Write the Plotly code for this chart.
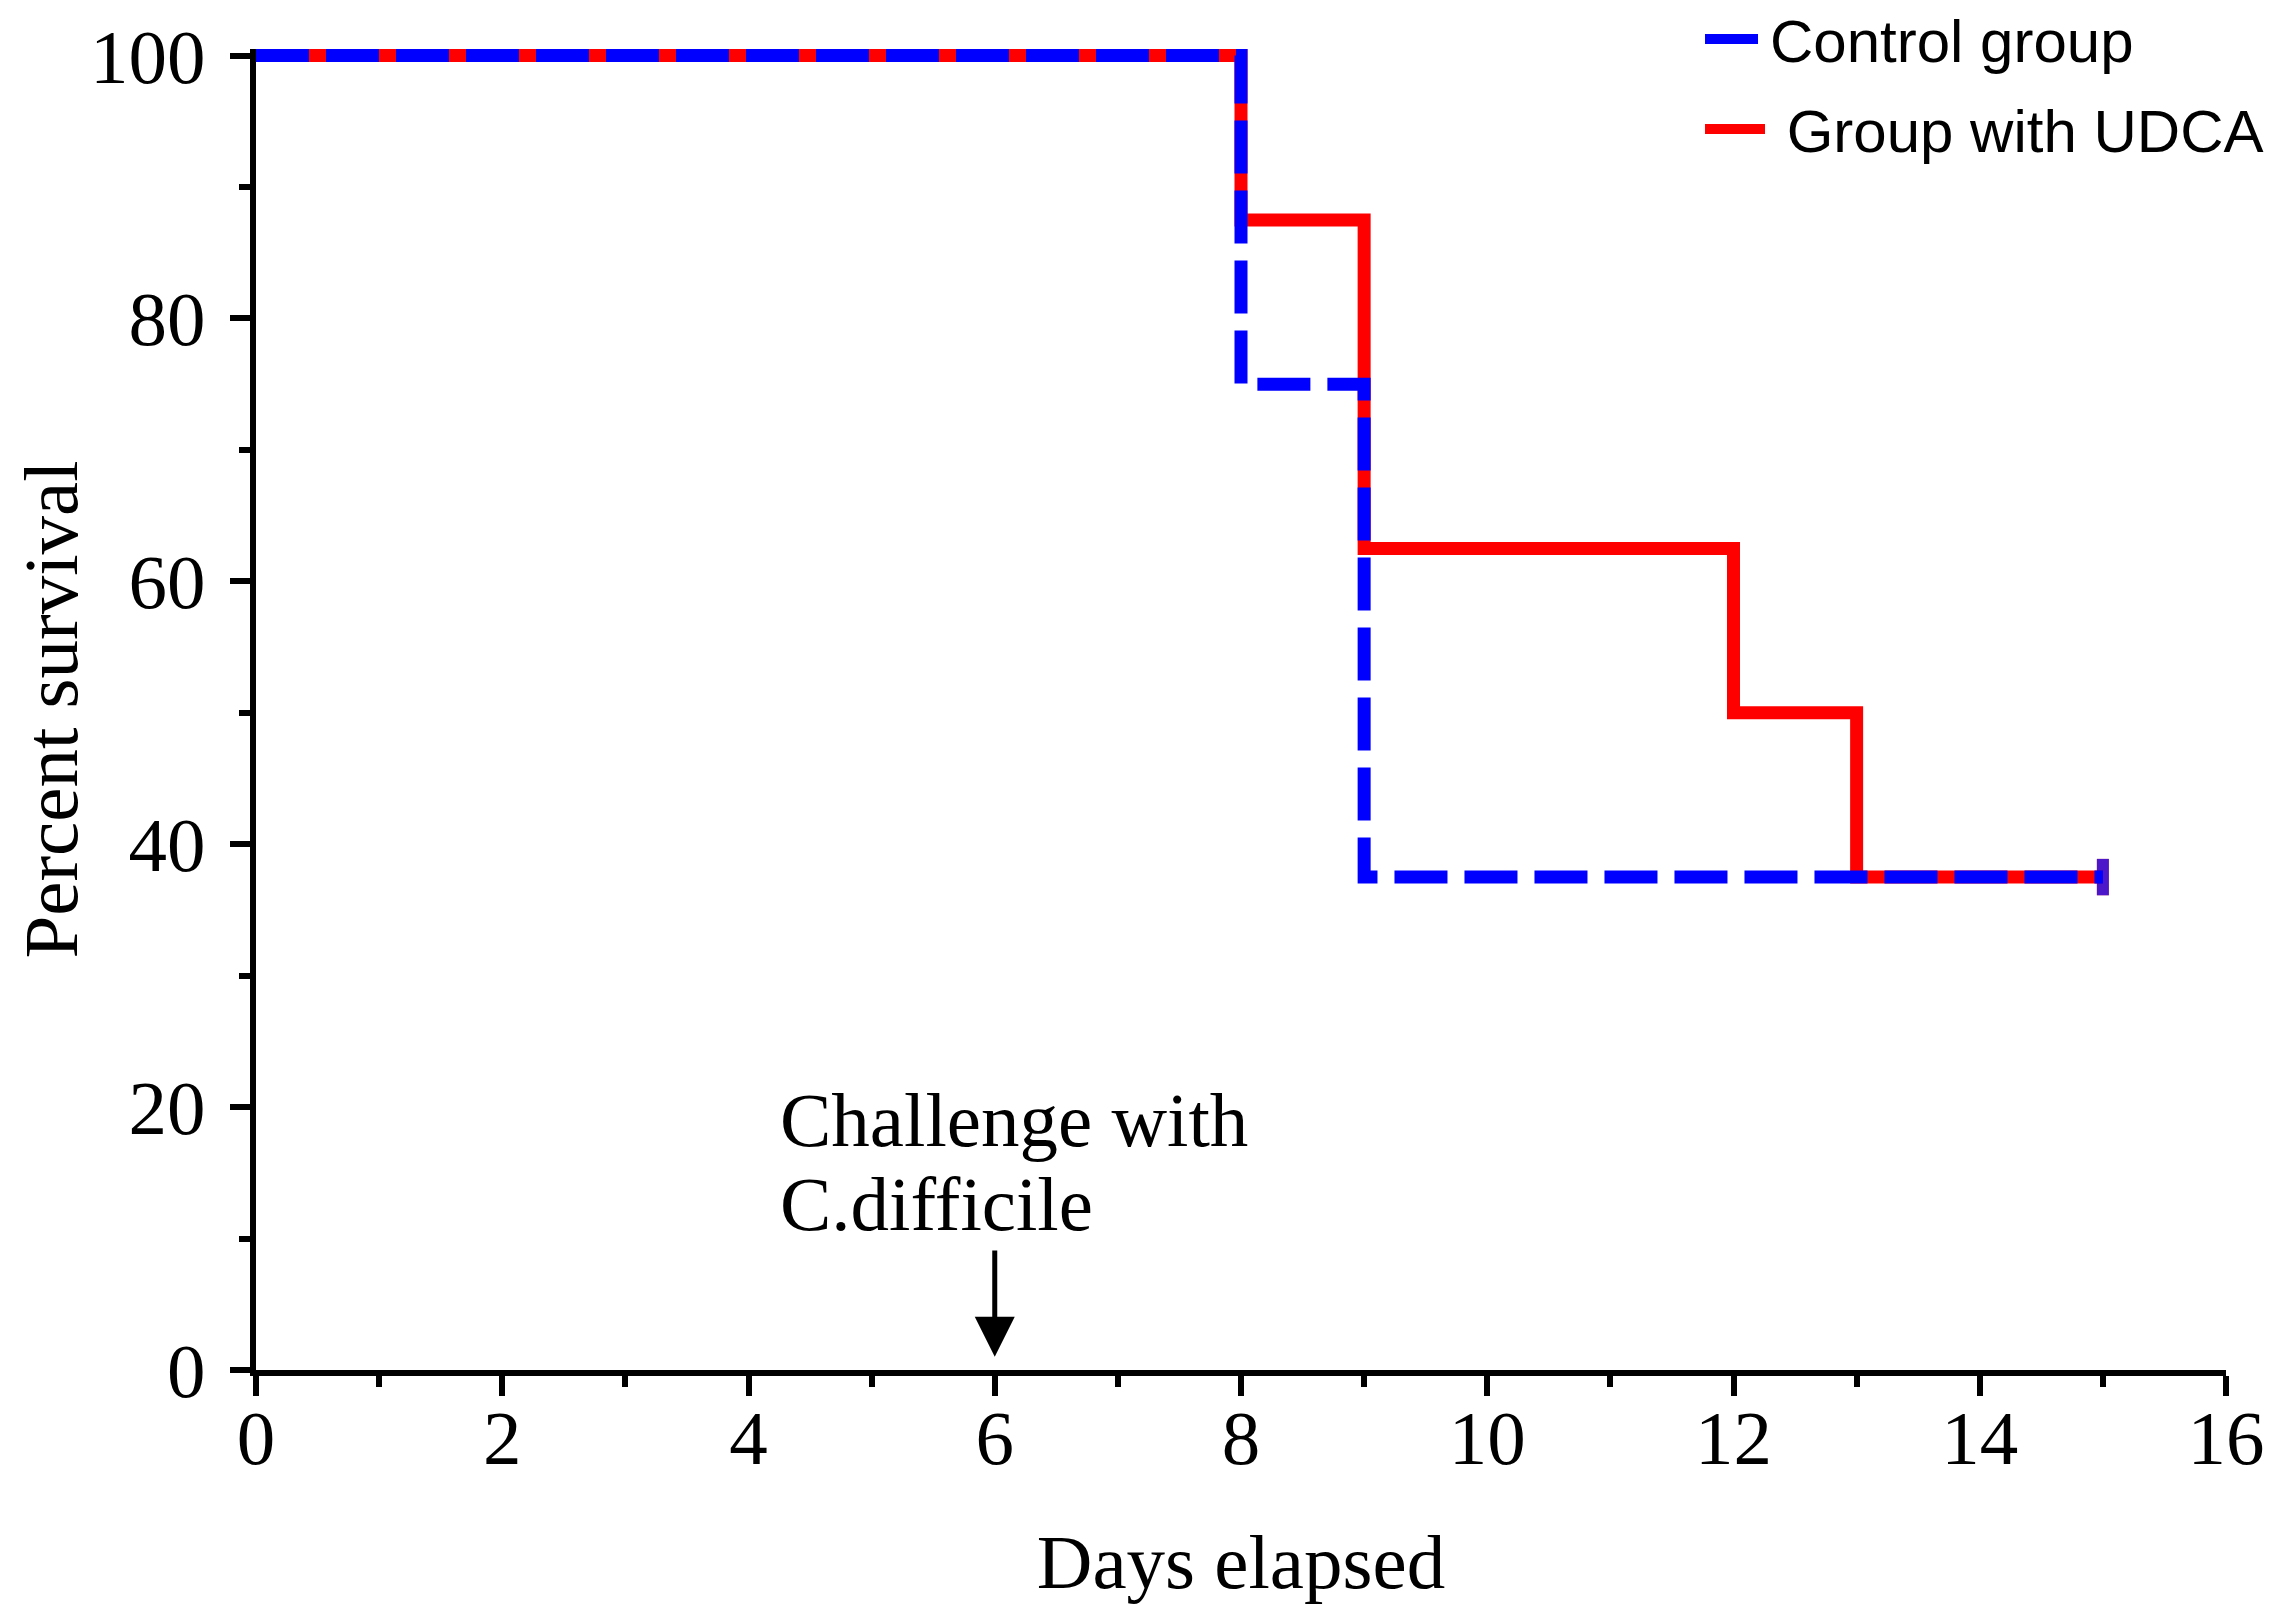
import plotly.graph_objects as go

# Data (Kaplan-Meier step values)
control_days = [0, 8, 9, 15]
control_surv = [100, 75, 37.5, 37.5]
udca_days = [0, 8, 9, 12, 13, 15]
udca_surv = [100, 87.5, 62.5, 50, 37.5, 37.5]

x_ticks = [0, 2, 4, 6, 8, 10, 12, 14, 16]
y_ticks = [0, 20, 40, 60, 80, 100]

challenge_day = 6

W, H = 2286, 1622
serif = "Liberation Serif, Times New Roman, serif"
sans = "Liberation Sans, Arial, sans-serif"
FS = 77

def censor_sizes(n):
    return [0] * (n - 1) + [26]

fig = go.Figure()
fig.add_trace(go.Scatter(
    x=udca_days, y=udca_surv, mode="lines+markers", line_shape="hv",
    name=" Group with UDCA", legendgroup="udca", legendrank=2,
    line=dict(color="#ff0000", width=13),
    marker=dict(symbol="line-ns-open", size=censor_sizes(len(udca_days)),
                line=dict(color="#ff0000", width=12)),
))
fig.add_trace(go.Scatter(
    x=control_days, y=control_surv, mode="lines+markers", line_shape="hv",
    name="Control group", legendgroup="control", legendrank=1,
    line=dict(color="#0000ff", width=13, dash="53px,17px"),
    marker=dict(symbol="line-ns-open", size=censor_sizes(len(control_days)),
                line=dict(color="#0000ff", width=12)),
))

fig.add_annotation(x=4.24, y=19.0, xref="x", yref="y", text="Challenge with",
                   showarrow=False, xanchor="left", yanchor="middle",
                   font=dict(family=serif, size=FS, color="black"))
fig.add_annotation(x=4.24, y=12.6, xref="x", yref="y", text="C.difficile",
                   showarrow=False, xanchor="left", yanchor="middle",
                   font=dict(family=serif, size=FS, color="black"))
fig.add_annotation(x=challenge_day, y=1.0, ax=challenge_day, ay=9.2,
                   xref="x", yref="y", axref="x", ayref="y", text="",
                   showarrow=True, arrowhead=2, arrowsize=1.6, arrowwidth=5,
                   arrowcolor="black")

axis_common = dict(
    showgrid=False, zeroline=False, showline=True, linecolor="black",
    linewidth=6, ticks="outside", ticklen=20, tickwidth=6, tickcolor="black",
    tickfont=dict(family=serif, size=FS, color="black"),
)

fig.update_xaxes(
    range=[0, 16], tickvals=x_ticks, ticktext=[str(v) for v in x_ticks],
    ticklabelstandoff=-24,
    minor=dict(dtick=1, ticklen=11, tickwidth=6, tickcolor="black", ticks="outside"),
    title=dict(text="Days elapsed", font=dict(family=serif, size=FS, color="black"), standoff=56),
    **axis_common,
)
fig.update_yaxes(
    range=[0, 100.5], tickvals=y_ticks, ticktext=[str(v) for v in y_ticks],
    ticklabelstandoff=9,
    minor=dict(dtick=10, tick0=0, ticklen=11, tickwidth=6, tickcolor="black", ticks="outside"),
    title=dict(text="Percent survival", font=dict(family=serif, size=FS, color="black"), standoff=40),
    **axis_common,
)

fig.update_layout(
    width=W, height=H,
    margin=dict(l=248, r=68, t=41, b=260, autoexpand=False),
    paper_bgcolor="white", plot_bgcolor="white",
    showlegend=True,
    legend=dict(x=0.733, y=1.042, xanchor="left", yanchor="top",
                traceorder="grouped", bgcolor="rgba(0,0,0,0)",
                font=dict(family=sans, size=60, color="black"),
                itemwidth=60, tracegroupgap=9),
)

fig.write_html("out.html")
